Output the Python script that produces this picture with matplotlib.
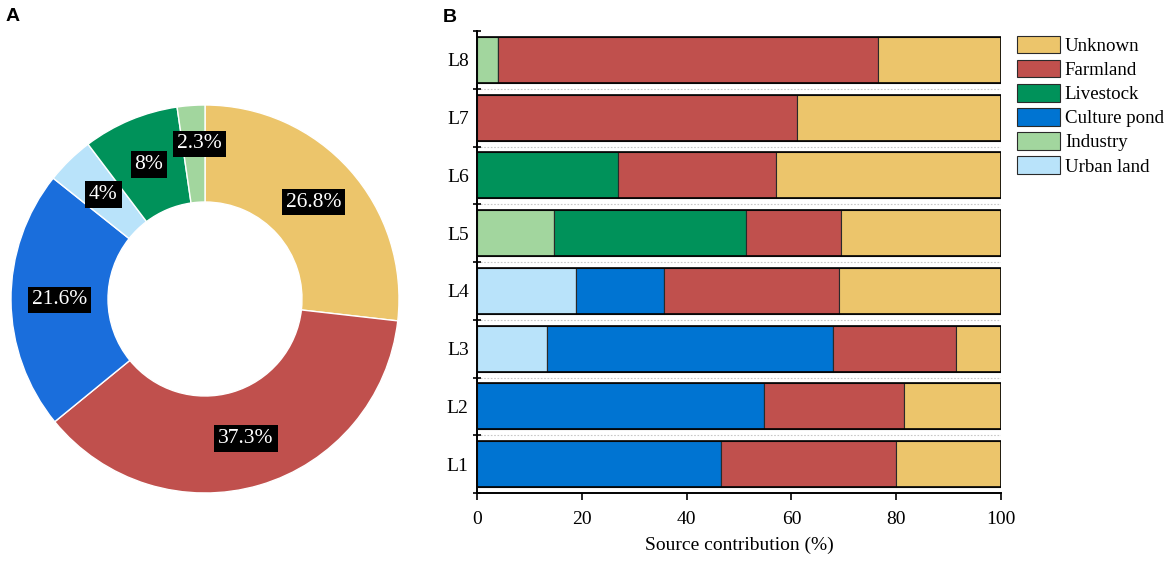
import matplotlib
matplotlib.use("Agg")
import matplotlib.pyplot as plt
import numpy as np

# ---------------- data ----------------
pie_labels = ["Unknown", "Farmland", "Culture pond", "Urban land", "Livestock", "Industry"]
pie_values = [26.8, 37.3, 21.6, 4.0, 8.0, 2.3]
pie_colors = ["#ECC56B", "#C0504D", "#1A6EDC", "#B9E3FA", "#00925A", "#A2D69E"]

sites = ["L1", "L2", "L3", "L4", "L5", "L6", "L7", "L8"]
urban_land   = [0.0, 0.0, 13.3, 18.9, 0.0, 0.0, 0.0, 0.0]
industry     = [0.0, 0.0, 0.0, 0.0, 14.7, 0.0, 0.0, 4.0]
culture_pond = [46.6, 54.7, 54.7, 16.7, 0.0, 0.0, 0.0, 0.0]
livestock    = [0.0, 0.0, 0.0, 0.0, 36.6, 27.0, 0.0, 0.0]
farmland     = [33.3, 26.7, 23.4, 33.4, 18.1, 30.0, 61.0, 72.5]
unknown      = [20.1, 18.6, 8.6, 31.0, 30.6, 43.0, 39.0, 23.5]

bar_series = [
    ("Urban land", urban_land, "#B9E3FA"),
    ("Industry", industry, "#A2D69E"),
    ("Culture pond", culture_pond, "#0074D2"),
    ("Livestock", livestock, "#00925A"),
    ("Farmland", farmland, "#C0504D"),
    ("Unknown", unknown, "#ECC56B"),
]
xticks = [0, 20, 40, 60, 80, 100]

SERIF = "Liberation Serif"
SANS = "Liberation Sans"

fig = plt.figure(figsize=(11.7, 5.62), dpi=100)

# ---------------- A: donut ----------------
axA = fig.add_axes([11 / 1170, (263 - 194) / 562, 388 / 1170, 388 / 562])
wedges, texts, autotexts = axA.pie(
    pie_values, colors=pie_colors, startangle=90, counterclock=False,
    radius=1.0, wedgeprops=dict(width=0.5, edgecolor="white", linewidth=1.0),
    autopct=lambda p: f"{p:.1f}%".replace(".0%", "%"), pctdistance=0.75,
)
for t in autotexts:
    t.set_color("white")
    t.set_fontfamily(SERIF)
    t.set_fontsize(15.5)
    t.set_bbox(dict(boxstyle="square,pad=0.18", facecolor="black", edgecolor="none"))
# nudge the smallest label outward like the reference
ang = np.deg2rad(92)
autotexts[-1].set_position((0.8 * np.cos(ang), 0.8 * np.sin(ang)))
axA.set_xlim(-1, 1)
axA.set_ylim(-1, 1)
axA.set_aspect("equal")
axA.axis("off")

# ---------------- B: stacked bars ----------------
axB = fig.add_axes([477 / 1170, 69 / 562, 524 / 1170, 462 / 562])
y = np.arange(len(sites))
left = np.zeros(len(sites))
h = 0.80
for name, vals, col in bar_series:
    vals = np.array(vals)
    axB.barh(y, vals, left=left, height=h, color=col, edgecolor="#2a2a2a",
             linewidth=0.8, label=name, zorder=3)
    left += vals
axB.barh(y, left, height=h, fill=False, edgecolor="black", linewidth=1.2, zorder=4)

for yb in np.arange(0.5, len(sites) - 0.5, 1.0):
    axB.axhline(yb, color="#c8c8c8", linestyle=(0, (1.5, 1.5)), linewidth=0.8, zorder=1)

axB.set_xlim(0, 100)
axB.set_ylim(-0.5, len(sites) - 0.5)
axB.set_xticks(xticks)
axB.set_xticklabels([str(v) for v in xticks], fontfamily=SERIF, fontsize=14)
axB.set_yticks(y)
axB.set_yticklabels(sites, fontfamily=SERIF, fontsize=14)
axB.set_yticks(np.arange(-0.5, len(sites), 1.0), minor=True)
axB.tick_params(axis="y", which="major", length=0, pad=6)
axB.tick_params(axis="y", which="minor", length=6, direction="inout", width=1.2)
axB.tick_params(axis="x", length=5, direction="out", width=1.2, pad=8)
for s in ["top", "right"]:
    axB.spines[s].set_visible(False)
for s in ["left", "bottom"]:
    axB.spines[s].set_linewidth(1.4)
axB.set_xlabel("Source contribution (%)", fontfamily=SERIF, fontsize=14, labelpad=6)

handles, labels = axB.get_legend_handles_labels()
handles = handles[::-1]
labels = labels[::-1]
fig.legend(handles, labels, loc="upper left", bbox_to_anchor=(1013 / 1170, 1 - 32 / 562),
           frameon=False, prop=dict(family=SERIF, size=13.6), handlelength=2.3,
           handleheight=1.05, labelspacing=0.26, handletextpad=0.25, borderaxespad=0,
           borderpad=0.2)

fig.text(6 / 1170, 1 - 8 / 562, "A", fontfamily=SANS, fontweight="bold", fontsize=14,
         va="top", ha="left")
fig.text(443 / 1170, 1 - 9 / 562, "B", fontfamily=SANS, fontweight="bold", fontsize=14,
         va="top", ha="left")

fig.savefig("out.png", dpi=100)
